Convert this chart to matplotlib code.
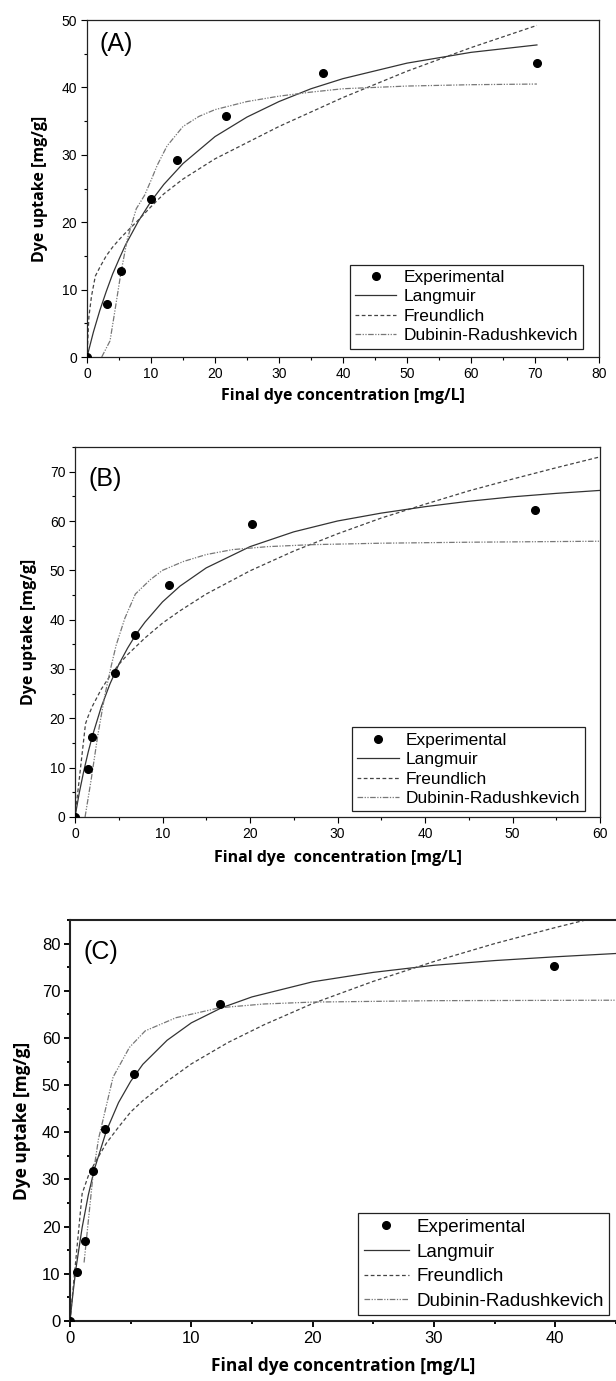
import matplotlib
matplotlib.use("Agg")
import matplotlib.pyplot as plt
from matplotlib.ticker import MultipleLocator

# ---------------- Panel A data ----------------
a_exp_x = [0, 3.1, 5.3, 10.0, 14.0, 21.7, 36.8, 70.3]
a_exp_y = [0, 7.9, 12.8, 23.4, 29.3, 35.7, 42.1, 43.6]
a_lang_x = [0, 1, 2, 3, 4, 5, 6, 8, 10, 12, 15, 20, 25, 30, 35, 40, 50, 60, 70.3]
a_lang_y = [0, 3.7, 6.9, 9.7, 12.3, 14.5, 16.6, 20.1, 23.1, 25.6, 28.7, 32.7, 35.6, 37.9, 39.8, 41.3, 43.6, 45.2, 46.3]
a_freu_x = [0, 0.3, 0.7, 1.3, 2, 3, 4, 5, 6, 8, 10, 12, 15, 20, 25, 30, 40, 50, 60, 70.3]
a_freu_y = [0, 6.0, 9.0, 12.0, 13.3, 15.0, 16.3, 17.4, 18.4, 20.3, 22.3, 24.2, 26.4, 29.4, 31.8, 34.2, 38.5, 42.4, 45.9, 49.2]
a_dr_x = [2.3, 3.6, 4.3, 5.3, 6.3, 7.7, 9.0, 10.0, 11.0, 12.5, 15, 17.5, 20, 25, 30, 35, 40, 50, 60, 70.3]
a_dr_y = [0, 2.4, 6.5, 12.5, 17.5, 22.0, 24.0, 26.2, 28.5, 31.3, 34.2, 35.7, 36.7, 37.9, 38.7, 39.3, 39.8, 40.2, 40.4, 40.5]

# ---------------- Panel B data ----------------
b_exp_x = [0, 1.43, 1.93, 4.6, 6.8, 10.7, 20.2, 52.6]
b_exp_y = [0, 9.7, 16.3, 29.1, 36.8, 47.1, 59.3, 62.2]
b_lang_x = [0, 0.5, 1, 1.5, 2, 3, 4, 5, 6, 7, 8, 10, 12, 15, 20, 25, 30, 35, 40, 45, 50, 55, 60]
b_lang_y = [0, 5.0, 9.3, 13.1, 16.5, 22.3, 27.0, 30.9, 34.2, 37.1, 39.5, 43.6, 46.8, 50.5, 54.8, 57.8, 60.0, 61.6, 62.9, 64.0, 64.9, 65.6, 66.2]
b_freu_x = [0, 1.2, 1.5, 2, 3, 4, 5, 6, 8, 10, 12, 15, 20, 25, 30, 35, 40, 45, 50, 55, 60]
b_freu_y = [0, 18.9, 20.4, 22.5, 25.9, 28.6, 30.9, 32.9, 36.3, 39.3, 41.8, 45.2, 49.9, 53.9, 57.4, 60.6, 63.4, 66.1, 68.5, 70.8, 73.0]
b_dr_x = [1.15, 1.85, 2.6, 3.4, 4.15, 4.7, 5.7, 6.9, 8.6, 10, 12.4, 15, 18, 22, 27, 35, 45, 60]
b_dr_y = [0, 7.6, 16.5, 24.6, 30.7, 34.8, 40.3, 45.2, 48.1, 50.0, 51.8, 53.2, 54.2, 54.8, 55.2, 55.5, 55.7, 55.9]

# ---------------- Panel C data ----------------
c_exp_x = [0, 0.58, 1.2, 1.88, 2.88, 5.3, 12.35, 39.9]
c_exp_y = [0, 10.4, 16.9, 31.7, 40.7, 52.4, 67.3, 75.2]
c_lang_x = [0, 0.25, 0.5, 1, 1.5, 2, 3, 4, 5, 6, 8, 10, 12.5, 15, 20, 25, 30, 35, 40, 45]
c_lang_y = [0, 6.0, 11.3, 19.8, 26.6, 32.1, 40.3, 46.3, 50.8, 54.4, 59.5, 63.2, 66.4, 68.7, 71.9, 73.9, 75.4, 76.4, 77.2, 77.9]
c_freu_x = [0, 1.0, 1.5, 2, 3, 4, 5, 6, 8, 10, 13, 16, 20, 25, 30, 35, 40, 45]
c_freu_y = [0, 27.0, 30.7, 33.3, 37.7, 41.1, 44.3, 46.7, 50.8, 54.5, 59.0, 62.8, 67.3, 72.0, 76.2, 80.0, 83.4, 86.6]
c_dr_x = [1.16, 1.9, 2.35, 3.55, 4.9, 6.2, 8.75, 12.35, 16, 20, 30, 45]
c_dr_y = [12.4, 31.0, 38.6, 51.7, 58.0, 61.5, 64.3, 66.4, 67.2, 67.6, 67.9, 68.0]

labels = ["Experimental", "Langmuir", "Freundlich", "Dubinin-Radushkevich"]

W, H = 616, 1381
fig = plt.figure(figsize=(W / 100, H / 100), dpi=100)

LABEL_FONT = ["Liberation Sans Narrow", "Open Sans", "DejaVu Sans"]
TEXT_FONT = ["Liberation Sans", "DejaVu Sans"]


def rect(l, r, t, b):
    return [l / W, 1 - b / H, (r - l) / W, (b - t) / H]


def panel(pos, ex, ey, lx, ly, fx, fy, dx, dy, xlim, ylim, xmaj, ymaj,
          letter, letter_y, xlabel, tick_fs, leg_fs, leg_sp, lab_fs, spine_lw,
          leg_anchor, hide_right=False, ylabelpad=4, xlabelpad=5):
    ax = fig.add_axes(pos)
    ax.plot(lx, ly, color="#333333", lw=0.9, ls="-")
    ax.plot(fx, fy, color="#444444", lw=0.9, dashes=(3.0, 2.0))
    ax.plot(dx, dy, color="#777777", lw=0.9, dashes=(4.5, 1.2, 1.0, 1.2, 1.0, 1.2))
    ax.plot(ex, ey, "o", color="black", ms=5.5, zorder=5)
    ax.set_xlim(*xlim)
    ax.set_ylim(*ylim)
    ax.xaxis.set_major_locator(MultipleLocator(xmaj))
    ax.xaxis.set_minor_locator(MultipleLocator(xmaj / 2))
    ax.yaxis.set_major_locator(MultipleLocator(ymaj))
    ax.yaxis.set_minor_locator(MultipleLocator(ymaj / 2))
    ax.tick_params(which="major", direction="out", length=4, width=spine_lw * 0.9,
                   labelsize=tick_fs, pad=3)
    ax.tick_params(which="minor", direction="out", length=2.5, width=spine_lw * 0.9)
    for lab in ax.get_xticklabels() + ax.get_yticklabels():
        lab.set_family(TEXT_FONT)
    for s in ax.spines.values():
        s.set_linewidth(spine_lw)
        s.set_color("#222222")
    if hide_right:
        ax.spines["right"].set_visible(False)
    ax.set_xlabel(xlabel, fontsize=lab_fs, family=LABEL_FONT, fontweight="bold",
                  labelpad=xlabelpad)
    ax.set_ylabel("Dye uptake [mg/g]", fontsize=lab_fs, family=LABEL_FONT,
                  fontweight="bold", labelpad=ylabelpad)
    ax.text(0.025, letter_y, letter, transform=ax.transAxes, ha="left", va="top",
            fontsize=18, family=TEXT_FONT)
    handles = ax.get_lines()
    leg = ax.legend([handles[3], handles[0], handles[1], handles[2]], labels,
                    loc="lower right", bbox_to_anchor=leg_anchor, frameon=True,
                    fancybox=False, edgecolor="#222222", framealpha=1,
                    prop={"family": TEXT_FONT, "size": leg_fs},
                    handlelength=2.4, handletextpad=0.4, labelspacing=leg_sp,
                    borderpad=0.3, borderaxespad=0)
    leg.get_frame().set_linewidth(0.9)
    return ax


panel(rect(87, 599, 20, 357), a_exp_x, a_exp_y, a_lang_x, a_lang_y, a_freu_x, a_freu_y,
      a_dr_x, a_dr_y, (0, 80), (0, 50), 10, 10, "(A)", 0.965,
      "Final dye concentration [mg/L]", 10, 12.5, 0.25, 11.5, 0.9, (0.969, 0.025),
      ylabelpad=10, xlabelpad=5)

panel(rect(75, 600, 447, 817), b_exp_x, b_exp_y, b_lang_x, b_lang_y, b_freu_x, b_freu_y,
      b_dr_x, b_dr_y, (0, 60), (0, 75), 10, 10, "(B)", 0.945,
      "Final dye  concentration [mg/L]", 10, 12.5, 0.25, 11.5, 0.9, (0.972, 0.015),
      ylabelpad=9, xlabelpad=7)

panel(rect(70, 616, 920, 1321), c_exp_x, c_exp_y, c_lang_x, c_lang_y, c_freu_x, c_freu_y,
      c_dr_x, c_dr_y, (0, 45), (0, 85), 10, 10, "(C)", 0.95,
      "Final dye concentration [mg/L]", 12, 13.5, 0.4, 12.5, 1.5, (0.988, 0.014),
      hide_right=True, ylabelpad=8, xlabelpad=8)

fig.savefig("out.png", dpi=100)
